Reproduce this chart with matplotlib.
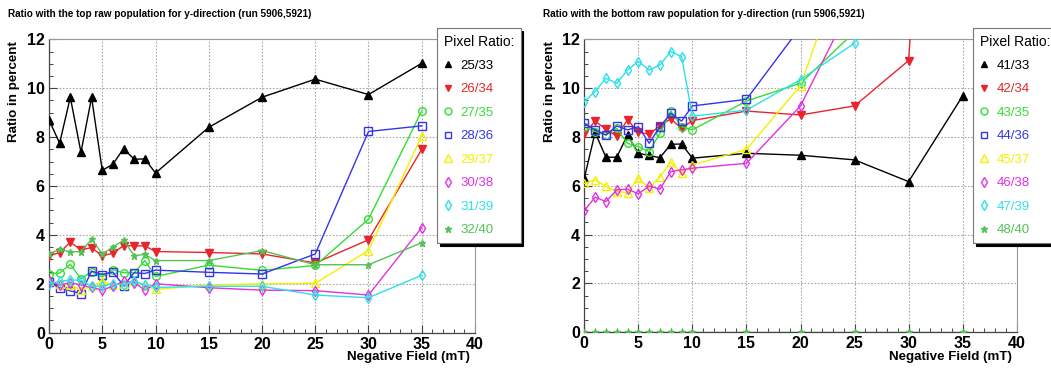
import numpy as np
import matplotlib
matplotlib.use('Agg')
import matplotlib.pyplot as plt
from matplotlib.ticker import MultipleLocator
from matplotlib.lines import Line2D

nan = np.nan
field = [0, 1, 2, 3, 4, 5, 6, 7, 8, 9, 10, 15, 20, 25, 30, 35]

top_title = "Ratio with the top raw population for y-direction (run 5906,5921)"
bot_title = "Ratio with the bottom raw population for y-direction (run 5906,5921)"

top_labels = ['25/33', '26/34', '27/35', '28/36', '29/37', '30/38', '31/39', '32/40']
top_25_33 = [8.70, 7.75, 9.63, 7.38, 9.62, 6.64, 6.89, 7.53, 7.09, 7.11, 6.53, 8.40, 9.63, 10.37, 9.74, 11.02]
top_26_34 = [3.14, 3.28, 3.70, 3.39, 3.48, 3.14, 3.25, 3.56, 3.55, 3.55, 3.32, 3.28, 3.22, 2.85, 3.80, 7.50]
top_27_35 = [2.42, 2.44, 2.80, 2.20, 2.50, 2.28, 2.58, 2.45, 2.45, 2.95, 2.30, 2.76, 2.55, 2.75, 4.64, 9.07]
top_28_36 = [2.06, 1.84, 1.71, 1.60, 2.52, 2.38, 2.48, 1.93, 2.45, 2.42, 2.56, 2.47, 2.40, 3.22, 8.23, 8.46]
top_29_37 = [2.10, 2.00, 1.95, 1.75, 1.90, 2.10, 1.95, 2.00, 2.10, 1.95, 1.77, 1.95, 2.00, 2.02, 3.36, 8.05]
top_30_38 = [2.10, 1.95, 2.05, 1.95, 1.85, 1.75, 1.90, 2.10, 2.05, 1.75, 2.00, 1.84, 1.74, 1.72, 1.54, 4.30]
top_31_39 = [2.00, 2.10, 2.15, 2.15, 1.90, 1.90, 2.00, 1.95, 2.10, 1.95, 1.85, 1.90, 1.90, 1.54, 1.43, 2.35]
top_32_40 = [3.22, 3.41, 3.30, 3.32, 3.82, 3.22, 3.50, 3.78, 3.15, 3.20, 2.95, 2.95, 3.36, 2.78, 2.78, 3.68]

bot_labels = ['41/33', '42/34', '43/35', '44/36', '45/37', '46/38', '47/39', '48/40']
bot_41_33 = [6.31, 8.18, 7.17, 7.17, 8.08, 7.33, 7.24, 7.15, 7.70, 7.71, 7.13, 7.33, 7.25, 7.06, 6.17, 9.68]
bot_42_34 = [8.12, 8.65, 8.31, 8.04, 8.70, 8.19, 8.11, 8.46, 8.74, 8.35, 8.67, 9.06, 8.90, 9.27, 11.13, 45.0]
bot_43_35 = [8.42, 8.22, 8.08, 8.35, 7.74, 7.60, 7.40, 8.15, 9.06, 8.42, 8.29, 9.47, 10.20, 12.30, nan, nan]
bot_44_36 = [8.56, 8.29, 8.08, 8.45, 8.29, 8.42, 7.74, 8.42, 8.97, 8.65, 9.27, 9.54, 12.50, nan, nan, nan]
bot_45_37 = [6.10, 6.24, 5.97, 5.76, 5.72, 6.31, 5.90, 6.37, 6.96, 6.51, 6.85, 7.49, 10.10, 16.40, nan, nan]
bot_46_38 = [4.98, 5.53, 5.35, 5.83, 5.86, 5.67, 5.99, 5.86, 6.58, 6.65, 6.72, 6.92, 9.27, 13.70, nan, nan]
bot_47_39 = [9.45, 9.86, 10.40, 10.20, 10.74, 11.09, 10.74, 10.95, 11.50, 11.29, 8.85, 9.10, 10.35, 11.84, nan, nan]
bot_48_40 = [0, 0, 0, 0, 0, 0, 0, 0, 0, 0, 0, 0, 0, 0, 0, 0]

top_series = [top_25_33, top_26_34, top_27_35, top_28_36, top_29_37, top_30_38, top_31_39, top_32_40]
bot_series = [bot_41_33, bot_42_34, bot_43_35, bot_44_36, bot_45_37, bot_46_38, bot_47_39, bot_48_40]

colors = ['#000000', '#e8242c', '#33dd33', '#3535e8', '#f4f000', '#e032e0', '#2ee0ea', '#55c255']
markers = ['^', 'v', 'o', 's', '^', 'd', 'd', '*']
filled = [True, True, False, False, False, False, False, True]
msizes = [5.5, 5.5, 5.5, 5.5, 6, 5.5, 5.5, 5]

plt.rcParams['font.family'] = ['Liberation Sans', 'DejaVu Sans']

fig = plt.figure(figsize=(10.51, 3.70), dpi=100)
W, H = 1051, 370

def ax_rect(x0, x1, ytop, ybot):
    return [x0 / W, 1 - ybot / H, (x1 - x0) / W, (ybot - ytop) / H]

ax1 = fig.add_axes(ax_rect(49, 475, 39.3, 332.7))
ax2 = fig.add_axes(ax_rect(584.3, 1016.7, 39.3, 332.2))

def style_axes(ax):
    ax.set_xlim(0, 40)
    ax.set_ylim(0, 12)
    ax.xaxis.set_major_locator(MultipleLocator(5))
    ax.xaxis.set_minor_locator(MultipleLocator(1))
    ax.yaxis.set_major_locator(MultipleLocator(2))
    ax.yaxis.set_minor_locator(MultipleLocator(0.5))
    ax.tick_params(which='major', direction='in', length=6, width=0.8, color='#444444',
                   labelsize=11.5, pad=3)
    ax.tick_params(which='minor', direction='in', length=3, width=0.7, color='#444444')
    ax.grid(True, which='major', color='#a8a8a8', linestyle=(0, (1.5, 1.5)), linewidth=0.8)
    for lab in ax.get_xticklabels() + ax.get_yticklabels():
        lab.set_fontweight('bold')
    for side in ['left', 'bottom']:
        ax.spines[side].set_color('#444444')
        ax.spines[side].set_linewidth(0.9)
    for side in ['top', 'right']:
        ax.spines[side].set_color('#999999')
        ax.spines[side].set_linewidth(0.8)
    ax.set_axisbelow(True)

def draw(ax, series, labels):
    handles = []
    for vals, lab, c, m, f, ms in zip(series, labels, colors, markers, filled, msizes):
        ax.plot(field, vals, color=c, linewidth=1.0, marker=m, markersize=ms,
                markerfacecolor=(c if f else 'none'), markeredgecolor=c, markeredgewidth=1.0,
                clip_on=True, zorder=3)
        handles.append(Line2D([], [], linestyle='none', marker=m, markersize=ms - 0.5,
                              markerfacecolor=(c if f else 'none'), markeredgecolor=c,
                              markeredgewidth=1.0, label=lab))
    return handles

for ax, series, labels, title, tx, ylx, xlx, lxp in [
        (ax1, top_series, top_labels, top_title, 8, 14, 470, 437),
        (ax2, bot_series, bot_labels, bot_title, 543, 550, 1012, 973)]:
    style_axes(ax)
    handles = draw(ax, series, labels)
    fig.text(tx / W, 1 - 14 / H, title, fontsize=7.2, fontweight='bold', ha='left', va='center')
    fig.text(ylx / W, 1 - 92 / H, 'Ratio in percent', fontsize=9.6, fontweight='bold',
             rotation=90, ha='center', va='center')
    fig.text(xlx / W, 1 - 357 / H, 'Negative Field (mT)', fontsize=9.6, fontweight='bold',
             ha='right', va='center')

    leg = ax.legend(handles=handles, title='Pixel Ratio:', loc='upper left',
                    bbox_to_anchor=(lxp / W, 1 - 28 / H), bbox_transform=fig.transFigure,
                    fontsize=9.5, title_fontsize=10, alignment='left',
                    handlelength=0.7, handletextpad=0.6, labelspacing=0.85,
                    borderpad=0.5, borderaxespad=0, frameon=True, fancybox=False,
                    shadow={'color': 'black', 'alpha': 1.0})
    leg.get_frame().set_edgecolor('#777777')
    leg.get_frame().set_linewidth(0.8)
    leg.get_frame().set_facecolor('white')
    for t, c in zip(leg.get_texts(), colors):
        t.set_color(c)
    leg.set_zorder(10)

fig.savefig('out.png', dpi=100)
